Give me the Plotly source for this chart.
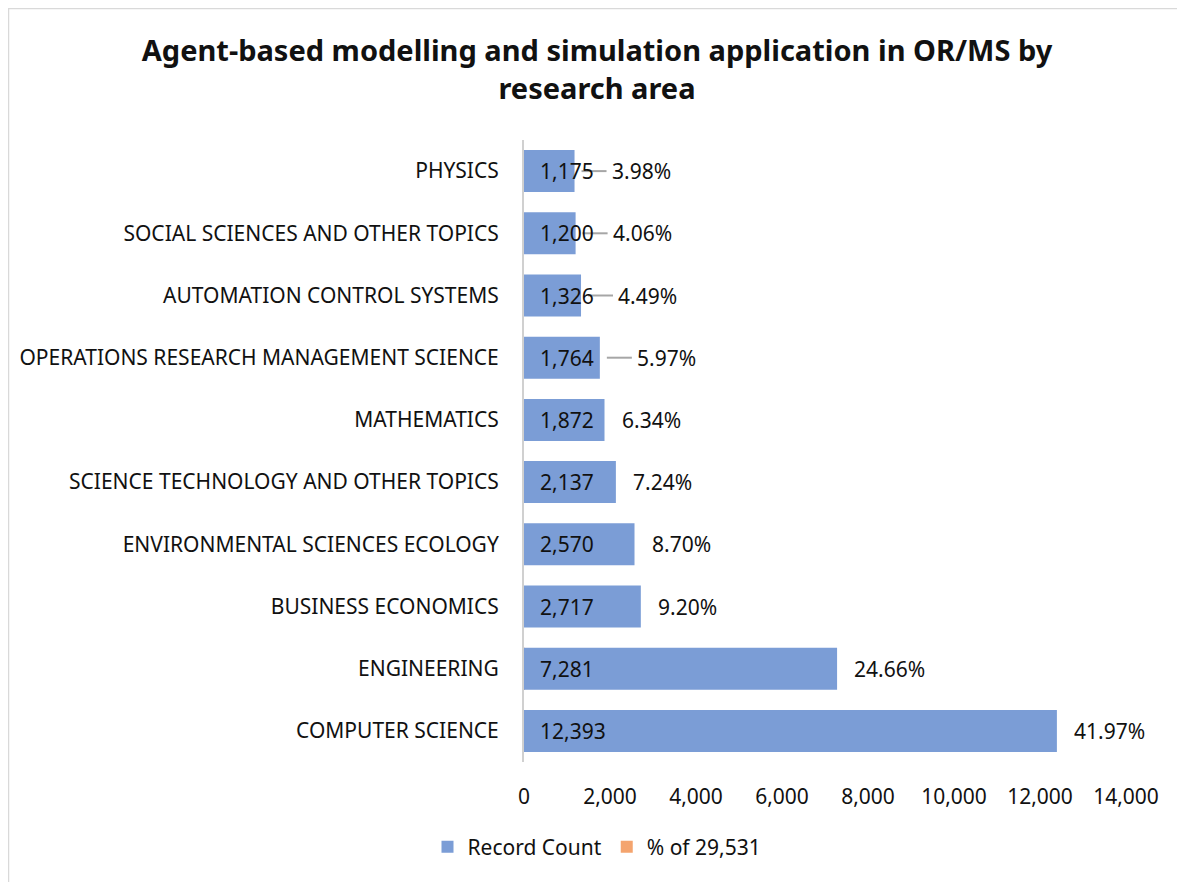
import plotly.graph_objects as go

categories = [
    "PHYSICS",
    "SOCIAL SCIENCES AND OTHER TOPICS",
    "AUTOMATION CONTROL SYSTEMS",
    "OPERATIONS RESEARCH MANAGEMENT SCIENCE",
    "MATHEMATICS",
    "SCIENCE TECHNOLOGY AND OTHER TOPICS",
    "ENVIRONMENTAL SCIENCES ECOLOGY",
    "BUSINESS ECONOMICS",
    "ENGINEERING",
    "COMPUTER SCIENCE",
]
record_count = [1175, 1200, 1326, 1764, 1872, 2137, 2570, 2717, 7281, 12393]
pct_of_total = [3.98, 4.06, 4.49, 5.97, 6.34, 7.24, 8.70, 9.20, 24.66, 41.97]
x_ticks = [0, 2000, 4000, 6000, 8000, 10000, 12000, 14000]

BLUE = "#7b9dd6"
ORANGE = "#f4a46e"
FONT = "Noto Sans"
TXT = "#111111"
# page body has an 8px margin, so the figure is a bit smaller than the window
W, H = 1177, 874
L, R, T, B = 516, 59, 132, 120
pw, ph = W - L - R, H - T - B

fig = go.Figure()
# the % series is tiny on this scale; drawn first so the blue bars cover it
fig.add_trace(go.Bar(y=categories, x=[p / 100 for p in pct_of_total], orientation="h",
                     name="% of 29,531", marker=dict(color=ORANGE, line=dict(width=0)),
                     width=0.675, legendrank=2))
fig.add_trace(go.Bar(y=categories, x=record_count, orientation="h", name="Record Count",
                     marker=dict(color=BLUE, line=dict(width=0)), width=0.675, legendrank=1))

for cat, cnt, pct in zip(categories, record_count, pct_of_total):
    fig.add_annotation(x=0, y=cat, text=f"{cnt:,}", showarrow=False, xanchor="left",
                       xshift=14, font=dict(family=FONT, size=21, color=TXT))
    leader = cnt < 1800
    fig.add_annotation(x=cnt, y=cat, text=f"{pct:.2f}%", showarrow=False, xanchor="left",
                       xshift=35 if leader else 15,
                       font=dict(family=FONT, size=21, color=TXT))
    if leader:
        fig.add_shape(type="line", xref="x", yref="y", xsizemode="pixel", xanchor=cnt,
                      x0=7, x1=32, y0=cat, y1=cat,
                      line=dict(color="#a6a6a6", width=2))

# outer chart frame
fig.add_shape(type="rect", xref="paper", yref="paper", layer="below",
              x0=(0.5 - L) / pw, x1=(W + 20 - L) / pw,
              y0=-(B + 20) / ph, y1=(ph + T - 0.5) / ph,
              line=dict(color="#d9d9d9", width=1.5), fillcolor="rgba(0,0,0,0)")

fig.update_layout(
    width=W, height=H,
    barmode="overlay",
    paper_bgcolor="white", plot_bgcolor="white",
    margin=dict(l=L, r=R, t=T, b=B),
    font=dict(family=FONT, size=21, color=TXT),
    title=dict(text="<b>Agent-based modelling and simulation application in OR/MS by<br>research area</b>",
               x=589 / W, xanchor="center", xref="container", y=1 - 53 / H, yanchor="top",
               font=dict(family=FONT, size=29, color=TXT)),
    legend=dict(orientation="h", x=(589 - L) / pw, xanchor="center", y=-(839 - T - ph) / ph,
                yanchor="middle", font=dict(family=FONT, size=21, color=TXT),
                traceorder="normal"),
    showlegend=True,
)
fig.update_xaxes(range=[0, 14000], tickvals=x_ticks, tickformat=",", showgrid=False,
                 zeroline=False, showline=False, ticklabelstandoff=20,
                 tickfont=dict(family=FONT, size=21, color=TXT))
fig.update_yaxes(categoryorder="array", categoryarray=categories, autorange="reversed",
                 showgrid=False, showline=True, linecolor="#d0d0d0", linewidth=2,
                 ticklabelstandoff=19, tickfont=dict(family=FONT, size=21, color=TXT))

fig.write_html("out.html")
